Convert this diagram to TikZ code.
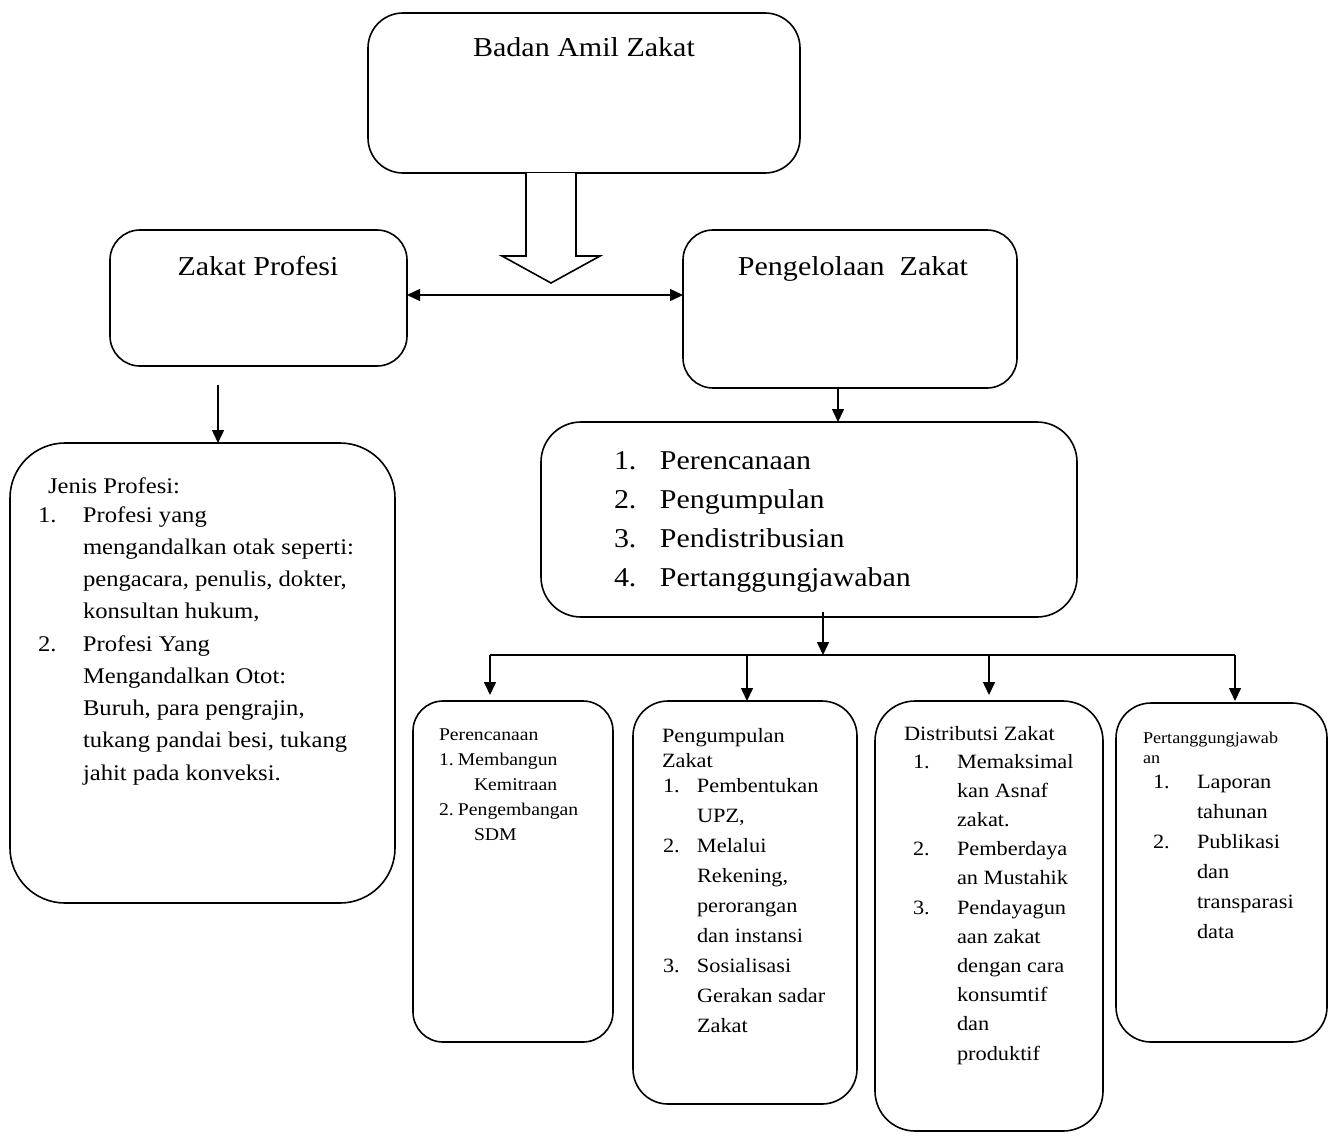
\documentclass[tikz,border=0pt]{standalone}
\usepackage{fontspec}
\setmainfont{Liberation Serif}[FakeStretch=1.1]
\usetikzlibrary{arrows.meta}
\newcommand\blk[3]{{\fontsize{#1}{#2}\selectfont\begin{tabular}[t]{@{}l@{}}#3\end{tabular}}}
\newcommand\nm[2]{\makebox[#1][l]{#2}}
\newcommand\ct[1]{\hspace*{#1}}
\newcommand\bx[6]{\node[box, rounded corners=#6pt, minimum width={(#4-#2)*1pt}, minimum height={(#5-#3)*1pt}] (#1) at ({(#2+#4)/2},{(#3+#5)/2}) {};}
\begin{document}
\begin{tikzpicture}[x=1pt,y=-1pt, line width=1.5pt,
  box/.style={draw, line width=1.6pt, inner sep=0pt, outer sep=0pt},
  txt/.style={anchor=base west, inner sep=0pt, outer sep=0pt},
  ttl/.style={anchor=base, inner sep=0pt, outer sep=0pt, font=\fontsize{27.3}{32}\selectfont},
  arr/.style={-{Triangle[length=13pt,width=12pt]}},
  darr/.style={{Triangle[length=13pt,width=12pt]}-{Triangle[length=13pt,width=12pt]}}]
\useasboundingbox[fill=white] (0,0) rectangle (1338,1141);

% boxes
\bx{bz}{368}{13}{800}{173}{35}
\bx{zp}{110}{230}{407}{366}{30}
\bx{pz}{683}{230}{1017}{388}{30}
\bx{jp}{10}{443}{395}{903}{55}
\bx{ml}{541}{422}{1077}{617}{40}
\bx{bA}{413}{701}{613}{1042}{30}
\bx{bB}{633}{701}{857}{1104}{35}
\bx{bC}{875}{701}{1103}{1131}{40}
\bx{bD}{1116}{703}{1327}{1042}{35}

% block arrow
\draw[line width=1.6pt, fill=white] (bz.south -| 526,0) -- (526,256) -- (502,256) -- (551,283) -- (600,256) -- (576,256) -- (bz.south -| 576,0);

% connectors
\draw[darr] (zp.east |- 0,295) -- (pz.west |- 0,295);
\coordinate (zpd) at (218,385);
\draw[arr] (zpd) -- (zpd |- jp.north);
\draw[arr] (pz.south -| 838,0) -- (ml.north -| 838,0);
\coordinate (mlo) at (823,612);
\coordinate (hub) at (823,655);
\draw[arr] (mlo) -- (hub);
\coordinate (hl) at (490,655);
\coordinate (hb) at (747,655);
\coordinate (hc) at (989,655);
\coordinate (hr) at (1235,655);
\draw (hl) -- (hr);
\draw[arr, shorten >=6pt] (hl) -- (hl |- bA.north);
\draw[arr] (hb) -- (hb |- bB.north);
\draw[arr, shorten >=6pt] (hc) -- (hc |- bC.north);
\draw[arr, shorten >=2pt] (hr) -- (hr |- bD.north);

% titles
\node[ttl] (bzt) at (584,56) {Badan Amil Zakat};
\node[ttl] (zpt) at (258,275) {Zakat Profesi};
\node[ttl] (pzt) at (853,275) {Pengelolaan\ \ Zakat};

% Jenis profesi
\node[txt] (jph) at (48,493) {\blk{22.4}{29}{Jenis Profesi:}};
\node[txt] (jpl) at (38,522) {\blk{22.4}{32.25}{\nm{45pt}{1.}Profesi yang\\
 \ct{45pt}mengandalkan otak seperti:\\
 \ct{45pt}pengacara, penulis, dokter,\\
 \ct{45pt}konsultan hukum,\\
 \nm{45pt}{2.}Profesi Yang\\
 \ct{45pt}Mengandalkan Otot:\\
 \ct{45pt}Buruh, para pengrajin,\\
 \ct{45pt}tukang pandai besi, tukang\\
 \ct{45pt}jahit pada konveksi.}};

% main list
\node[txt] (mlt) at (614,469) {\blk{27.2}{39.3}{\nm{46pt}{1.}Perencanaan\\
 \nm{46pt}{2.}Pengumpulan\\
 \nm{46pt}{3.}Pendistribusian\\
 \nm{46pt}{4.}Pertanggungjawaban}};

% box A
\node[txt] (bAt) at (439,740) {\blk{17.9}{25.2}{Perencanaan\\
 \nm{19pt}{1.}Membangun\\
 \ct{35pt}Kemitraan\\
 \nm{19pt}{2.}Pengembangan\\
 \ct{35pt}SDM}};

% box B
\node[txt] (bBh) at (662,742) {\blk{20.3}{25}{Pengumpulan\\Zakat}};
\node[txt] (bBl) at (663,792) {\blk{20.3}{30}{\nm{34pt}{1.}Pembentukan\\
 \ct{34pt}UPZ,\\
 \nm{34pt}{2.}Melalui\\
 \ct{34pt}Rekening,\\
 \ct{34pt}perorangan\\
 \ct{34pt}dan instansi\\
 \nm{34pt}{3.}Sosialisasi\\
 \ct{34pt}Gerakan sadar\\
 \ct{34pt}Zakat}};

% box C
\node[txt] (bCh) at (904,740) {\blk{20.3}{24}{Distributsi Zakat}};
\node[txt] (bCl) at (913,768) {\blk{20.3}{29.2}{\nm{44pt}{1.}Memaksimal\\
 \ct{44pt}kan Asnaf\\
 \ct{44pt}zakat.\\
 \nm{44pt}{2.}Pemberdaya\\
 \ct{44pt}an Mustahik\\
 \nm{44pt}{3.}Pendayagun\\
 \ct{44pt}aan zakat\\
 \ct{44pt}dengan cara\\
 \ct{44pt}konsumtif\\
 \ct{44pt}dan\\
 \ct{44pt}produktif}};

% box D
\node[txt] (bDh) at (1143,743) {\blk{16.5}{20}{Pertanggungjawab\\an}};
\node[txt] (bDl) at (1153,788) {\blk{20.3}{30}{\nm{44pt}{1.}Laporan\\
 \ct{44pt}tahunan\\
 \nm{44pt}{2.}Publikasi\\
 \ct{44pt}dan\\
 \ct{44pt}transparasi\\
 \ct{44pt}data}};
\end{tikzpicture}
\end{document}
